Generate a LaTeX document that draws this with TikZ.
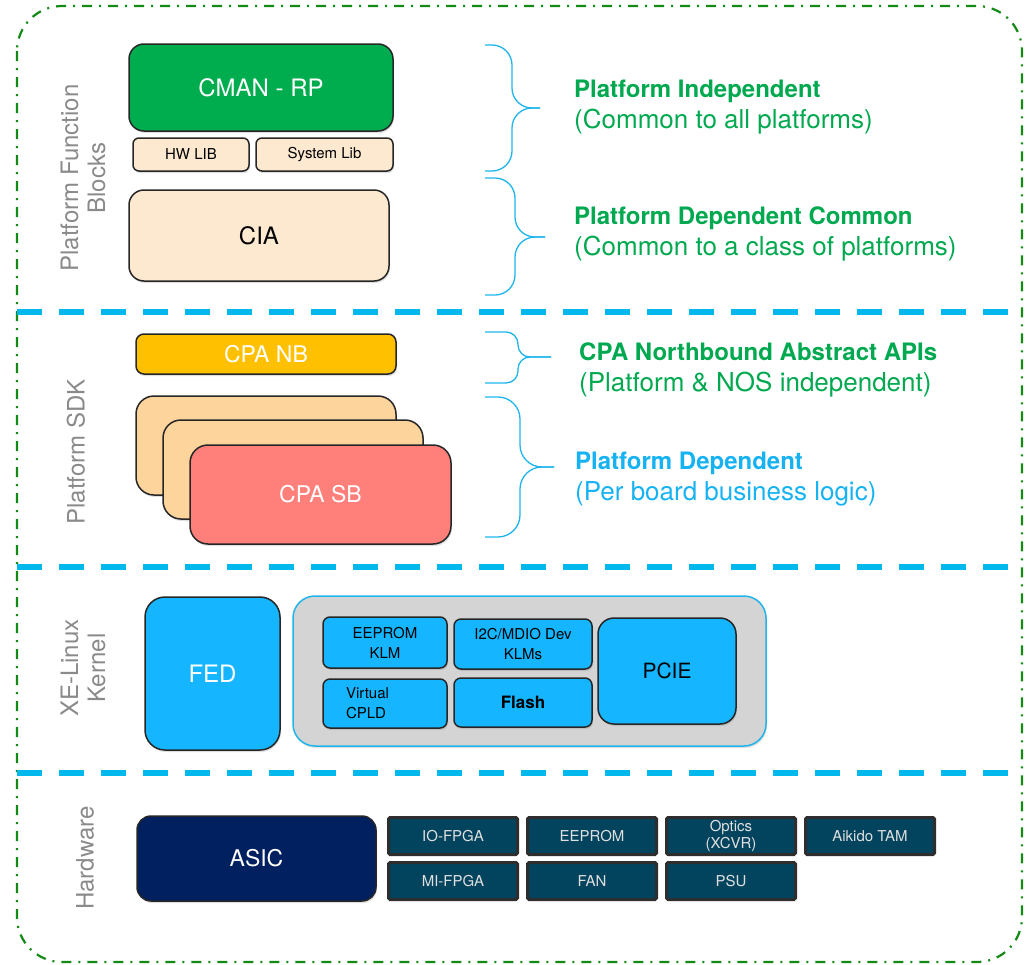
\documentclass[tikz,border=0pt]{standalone}
\usepackage{fontspec}
\setmainfont{TeX Gyre Heros}
\usepackage{xcolor}
\usetikzlibrary{positioning, shadows}

\definecolor{cmangreen}{HTML}{00AD4E}
\definecolor{notegreen}{HTML}{00A94F}
\definecolor{peach}{HTML}{FDE9D0}
\definecolor{stackpeach}{HTML}{FED49D}
\definecolor{sbred}{HTML}{FF7F7A}
\definecolor{nbgold}{HTML}{FFC000}
\definecolor{kblue}{HTML}{15B6FF}
\definecolor{sepblue}{HTML}{00B8EC}
\definecolor{braceblue}{HTML}{1FB5EA}
\definecolor{depblue}{HTML}{16B2F2}
\definecolor{cgray}{HTML}{D4D4D4}
\definecolor{asicnavy}{HTML}{002060}
\definecolor{hwteal}{HTML}{02445E}
\definecolor{borderdark}{HTML}{2E2E2E}
\definecolor{framegreen}{HTML}{138A13}
\definecolor{labelgray}{HTML}{8A8A8A}

% curly brace: x left, x stem, x tip, y top, y tip, y bottom, radius
\newcommand{\curlyb}[7]{%
  \draw[bracket, rounded corners=#7] (#1,#4) -- (#2,#4) -- (#2,#5) -- (#3,#5);
  \draw[bracket, rounded corners=#7] (#3,#5) -- (#2,#5) -- (#2,#6) -- (#1,#6);}

% note text: bold title over a plain line
\newcommand{\notetext}[2]{{\bfseries #1}\\{\fontsize{26}{31}\selectfont #2}}

\begin{document}
\begin{tikzpicture}[
    x=1pt, y=-1pt,
    box/.style={draw=black!85, line width=1.5pt, align=center, inner sep=0pt,
      drop shadow={opacity=0.25, shadow xshift=1pt, shadow yshift=-2pt}},
    topbox/.style={box, fill=cmangreen, text=white, rounded corners=15pt, font=\fontsize{24}{28}\selectfont},
    libbox/.style={box, fill=peach, rounded corners=6pt, font=\fontsize{15}{18}\selectfont},
    ciabox/.style={box, fill=peach, rounded corners=15pt, font=\fontsize{24}{28}\selectfont},
    nbbox/.style={box, fill=nbgold, text=white, rounded corners=8pt, font=\fontsize{23}{27}\selectfont},
    sbbox/.style={box, fill=#1, text=white, rounded corners=18pt, font=\fontsize{23}{27}\selectfont},
    fedbox/.style={box, fill=kblue, text=white, rounded corners=20pt, font=\fontsize{24}{28}\selectfont},
    klmbox/.style={box, fill=kblue, rounded corners=7pt, font=\fontsize{15}{20}\selectfont},
    asicbox/.style={box, fill=asicnavy, text=white, rounded corners=14pt, font=\fontsize{23}{27}\selectfont},
    hwbox/.style={draw=borderdark, line width=3pt, fill=hwteal, text=white!88!black, rounded corners=1.5pt,
      minimum width=129pt, minimum height=37pt, inner sep=0pt, align=center,
      font=\fontsize{15}{18}\selectfont},
    layer/.style={rotate=90, text=labelgray, align=center, font=\fontsize{24}{27}\selectfont},
    note/.style={anchor=west, align=left, inner xsep=0pt, font=\fontsize{24}{31}\selectfont},
    divider/.style={draw=sepblue, line width=6pt, dash pattern=on 25pt off 17pt},
    bracket/.style={draw=braceblue, line width=1.3pt},
    frame/.style={draw=framegreen, line width=2.2pt, rounded corners=45pt,
      dash pattern=on 10pt off 7pt on 2pt off 7pt},
]
\useasboundingbox (0,0) rectangle (1025,964);

% outer frame and layer separators
\draw[frame] (17,6) rectangle (1022,962);
\draw[divider] (17,312) -- (1025,312);
\draw[divider] (17,567) -- (1025,567);
\draw[divider] (17,773) -- (1025,773);

% layer titles
\node[layer] (pfb) at (83,178) {Platform Function\\Blocks};
\node[layer] (sdk) at (76,452) {Platform SDK};
\node[layer] (kern) at (83,668) {XE-Linux\\Kernel};
\node[layer] (hw) at (85,858) {Hardware};

% platform function blocks
\node[topbox, minimum width=264, minimum height=87] (cman) at (261,87.5) {CMAN - RP};
\node[libbox, minimum width=116, minimum height=33] (hwlib) at (191,154.5) {HW LIB};
\node[libbox, minimum width=137, minimum height=33] (syslib) at (324.5,154.5) {System Lib};
\node[ciabox, minimum width=260, minimum height=91] (cia) at (259,235.5) {CIA};

% platform SDK
\node[nbbox, minimum width=260, minimum height=40] (cpanb) at (266,354) {CPA NB};
\node[sbbox=stackpeach, minimum width=260, minimum height=99] (sback) at (266,445.5) {};
\node[sbbox=stackpeach, minimum width=260, minimum height=99] (smid) at (293,469.5) {};
\node[sbbox=sbred, minimum width=261, minimum height=99] (cpasb) at (320.5,494.5) {CPA SB};

% kernel
\node[fedbox, minimum width=135, minimum height=153] (fed) at (212.5,673.5) {FED};
\node[box, draw=braceblue, fill=cgray, rounded corners=22pt, minimum width=473, minimum height=150] (klms) at (529.5,671) {};
\node[klmbox, minimum width=124, minimum height=51] (eepklm) at (385,642.5) {EEPROM\\KLM};
\node[klmbox, minimum width=138, minimum height=50] (i2c) at (523,644) {I2C/MDIO Dev\\KLMs};
\node[klmbox, minimum width=124, minimum height=49, text width=78pt, align=left, inner xsep=23pt] (vcpld) at (385,703.5) {Virtual\\CPLD};
\node[klmbox, minimum width=138, minimum height=49, font=\fontsize{17}{20}\selectfont\bfseries] (flash) at (523,702.5) {Flash};
\node[klmbox, rounded corners=16pt, minimum width=138, minimum height=106, font=\fontsize{21}{24}\selectfont] (pcie) at (667,671) {PCIE};

% hardware
\node[asicbox, minimum width=239, minimum height=85] (asic) at (256.5,858.5) {ASIC};
\node[hwbox] (iofpga) at (453,836) {IO-FPGA};
\node[hwbox, right=7pt of iofpga] (eeprom) {EEPROM};
\node[hwbox, right=7pt of eeprom, font=\fontsize{15}{17}\selectfont] (optics) {Optics\\(XCVR)};
\node[hwbox, right=7pt of optics] (aikido) {Aikido TAM};
\node[hwbox, below=5pt of iofpga] (mifpga) {MI-FPGA};
\node[hwbox, below=5pt of eeprom] (fan) {FAN};
\node[hwbox, below=5pt of optics] (psu) {PSU};

% braces and notes
\curlyb{485}{512}{540}{45}{108}{171}{20}
\curlyb{485}{515}{545}{178}{237}{295}{20}
\curlyb{485}{518}{551}{332}{357}{383}{12}
\curlyb{485}{520}{554}{397}{467}{537}{22}

\node[note, text=notegreen] (indep) at (574,107) {\notetext{Platform Independent}{(Common to all platforms)}};
\node[note, text=notegreen] (depcom) at (574,234) {\notetext{Platform Dependent Common}{(Common to a class of platforms)}};
\node[note, text=notegreen] (nbapi) at (579,370) {\notetext{CPA Northbound Abstract APIs}{(Platform \& NOS independent)}};
\node[note, text=depblue] (dep) at (575,479) {\notetext{Platform Dependent}{(Per board business logic)}};

\end{tikzpicture}
\end{document}
